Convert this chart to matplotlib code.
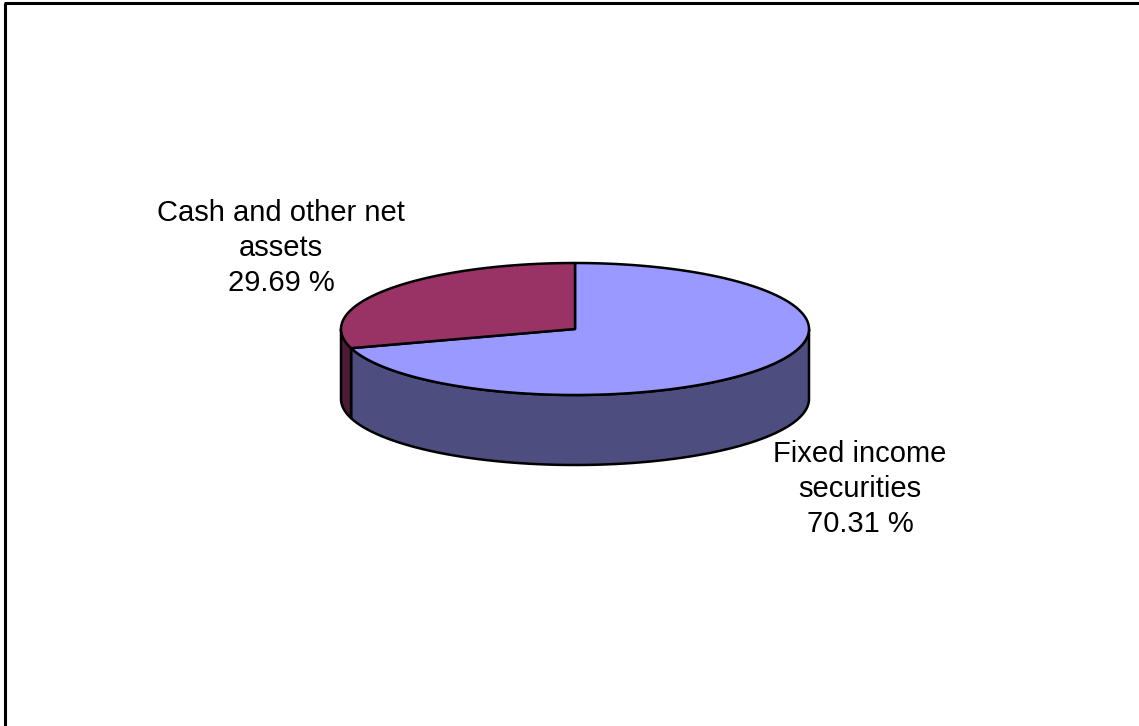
import numpy as np
import matplotlib.pyplot as plt
from matplotlib.patches import Polygon

# data
labels = ['Fixed income\nsecurities', 'Cash and other net\nassets']
values = [70.31, 29.69]
top_colors = ['#9999ff', '#993366']
side_colors = ['#4d4d80', '#4d1a33']

# pie geometry in pixels
cx, cy = 575, 329
rx, ry = 234, 66
depth = 70


def ell(t):
    # t in degrees, measured clockwise from 12 o'clock
    r = np.radians(t)
    return cx + rx * np.sin(r), cy - ry * np.cos(r)


fig = plt.figure(figsize=(11.39, 7.26), dpi=100)
ax = fig.add_axes([0, 0, 1, 1])
ax.set_xlim(0, 1139)
ax.set_ylim(726, 0)
ax.axis('off')

# cumulative angles
bounds = np.concatenate([[0], np.cumsum(values) / sum(values) * 360])

# side walls, only the front half (90..270) is visible
for i in range(len(values)):
    a0 = max(bounds[i], 90)
    a1 = min(bounds[i + 1], 270)
    if a1 <= a0:
        continue
    t = np.linspace(a0, a1, 200)
    xs, ys = ell(t)
    pts = list(zip(xs, ys)) + list(zip(xs[::-1], ys[::-1] + depth))
    ax.add_patch(Polygon(pts, closed=True, facecolor=side_colors[i],
                         edgecolor='black', linewidth=1.8, joinstyle='round'))

# top faces
for i in range(len(values)):
    t = np.linspace(bounds[i], bounds[i + 1], 300)
    xs, ys = ell(t)
    pts = [(cx, cy)] + list(zip(xs, ys))
    ax.add_patch(Polygon(pts, closed=True, facecolor=top_colors[i],
                         edgecolor='black', linewidth=1.8, joinstyle='round'))

# labels
label_pos = [(860, 489), (281, 248)]
for i in range(len(values)):
    ax.text(label_pos[i][0], label_pos[i][1],
            f"{labels[i]}\n{values[i]:.2f} %",
            ha='center', va='center', fontsize=21, family='Liberation Sans',
            linespacing=1.34)

# frame lines on top and left
ax.plot([5, 5], [3, 726], color='black', linewidth=2.2, solid_capstyle='butt')
ax.plot([3.5, 1139], [3, 3], color='black', linewidth=2.2, solid_capstyle='butt')

fig.savefig('out.png', dpi=100)
